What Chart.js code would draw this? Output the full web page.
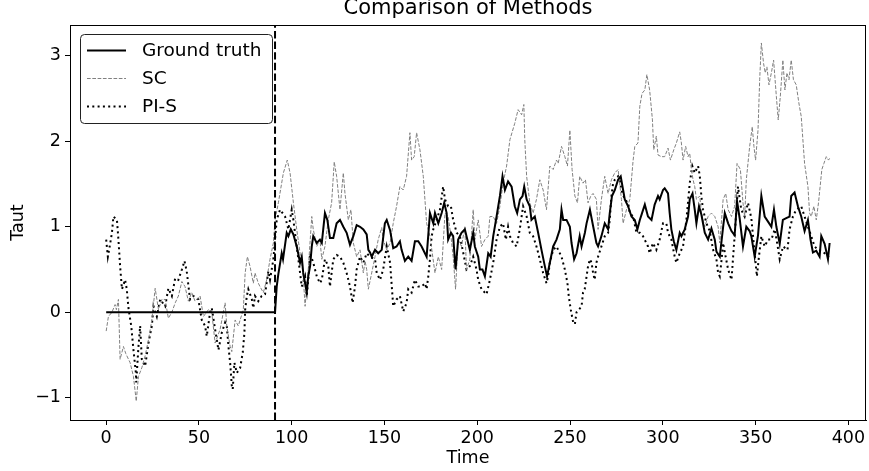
<!DOCTYPE html>
<html lang="en">
<head>
  <meta charset="UTF-8" />
  <title>Comparison of Methods</title>
  <script src="https://cdn.jsdelivr.net/npm/chart.js"></script>
  <style>
    html, body { margin: 0; padding: 0; background: #fff; }
    #wrap { width: 869px; height: 471px; }
  </style>
</head>
<body>
  <div id="wrap"><canvas id="chart" width="869" height="471"></canvas></div>
  <script>
    // values
    const gtTime = [0, 91, 91.9, 92.8, 94.6, 95.3, 97.3, 98.2, 99.5, 100.9, 102.7, 104.5, 105.4, 106.2, 107.2, 108.1, 108.9, 109.9, 110.8, 111.6, 113.5, 115.2, 116.2, 117.9, 119.2, 120.6, 122.4, 124.2, 126, 127.8, 129.6, 131.4, 133.2, 135, 136.8, 138.6, 140.4, 141.3, 142.2, 143.1, 144.9, 146.6, 148.5, 150.2, 151.2, 153, 154.7, 156.5, 158.3, 159.2, 161, 162.8, 164.6, 166.4, 168.2, 170, 172.7, 174.5, 176.3, 177.2, 179, 180.8, 182.2, 183.5, 184.3, 185.8, 187, 188.3, 189.7, 191.5, 193.3, 194.2, 196, 197.8, 198.7, 200.5, 201.4, 202.8, 204.1, 205.9, 207.2, 208.6, 210.4, 212.2, 213.6, 214.9, 216.6, 218.5, 220.2, 221.5, 223, 224.4, 225.3, 226.6, 228.3, 229.2, 231, 232.8, 234.6, 236.4, 237.6, 239.1, 240.9, 242.7, 244.5, 245.4, 246.3, 248.1, 249.9, 250.8, 252.2, 253.5, 255.2, 256.2, 258, 258.9, 260.7, 262.5, 264.2, 265.1, 266.9, 268.7, 270.5, 271.4, 272.6, 274.1, 275.9, 277.3, 278.6, 279.5, 281.3, 283.1, 284.9, 286.3, 287.6, 288.8, 290.3, 292, 293.9, 295.6, 297.4, 298.3, 300.1, 301, 302.8, 303.7, 304.6, 305.9, 307.3, 309.1, 310, 311.8, 313.6, 314.5, 316, 317.2, 318.1, 319.5, 320.8, 322.6, 324.4, 326.2, 328, 328.9, 330.7, 332.5, 333.4, 335.2, 337, 338.7, 340, 341.4, 343.2, 345, 346.8, 347.7, 349.5, 351.3, 353.1, 354.9, 356.7, 358.5, 359.9, 361.2, 363, 364.7, 366.5, 368.3, 369.2, 371, 372.8, 374.6, 376.4, 378.2, 379.6, 380.9, 382.7, 384.5, 385.4, 387.2, 389, 389.9];
    const gtValue = [0, 0, 0.3, 0.45, 0.69, 0.62, 0.93, 0.89, 0.97, 0.91, 0.77, 0.58, 0.65, 0.46, 0.34, 0.23, 0.42, 0.54, 0.77, 0.89, 0.81, 0.85, 0.81, 1.16, 1.08, 0.87, 0.87, 1.04, 1.08, 1.0, 0.93, 0.79, 0.89, 1.02, 1.0, 0.97, 0.91, 0.73, 0.7, 0.65, 0.73, 0.69, 0.73, 1.04, 1.08, 0.96, 0.75, 0.77, 0.83, 0.73, 0.6, 0.65, 0.6, 0.83, 0.83, 0.77, 0.65, 1.16, 1.04, 1.16, 1.04, 1.16, 1.28, 1.16, 0.85, 0.93, 0.89, 0.5, 0.85, 0.93, 0.97, 0.89, 0.73, 0.93, 0.77, 0.65, 0.5, 0.5, 0.42, 0.69, 0.65, 0.89, 1.12, 1.36, 1.59, 1.43, 1.53, 1.47, 1.24, 1.16, 1.32, 1.36, 1.47, 1.32, 1.24, 1.08, 1.12, 0.93, 0.73, 0.54, 0.42, 0.58, 0.77, 0.85, 0.97, 1.2, 1.08, 1.08, 1.0, 0.81, 0.62, 0.69, 0.89, 0.77, 0.93, 1.04, 1.2, 1.0, 0.81, 0.77, 0.89, 1.04, 0.97, 1.16, 1.36, 1.43, 1.55, 1.59, 1.43, 1.32, 1.24, 1.12, 1.08, 0.97, 1.08, 1.16, 1.26, 1.12, 1.08, 1.26, 1.36, 1.32, 1.43, 1.45, 1.39, 1.16, 0.97, 0.83, 0.73, 0.93, 0.89, 0.97, 1.12, 1.32, 1.39, 1.2, 1.04, 1.24, 1.14, 0.93, 0.85, 0.98, 0.85, 0.71, 0.65, 1.0, 1.16, 1.04, 0.95, 0.9, 1.3, 1.1, 0.77, 1.0, 0.95, 0.89, 0.65, 0.9, 1.36, 1.12, 1.06, 1.0, 1.2, 1.0, 0.8, 1.08, 1.1, 1.12, 1.36, 1.4, 1.24, 1.12, 0.95, 1.08, 0.85, 0.7, 0.72, 0.65, 0.89, 0.8, 0.62, 0.81];

    const scTime = [0, 1.2, 3.1, 4.8, 5.5, 6.6, 7.5, 9.3, 10.5, 12.9, 14.7, 16.2, 17.4, 19.2, 21, 22.8, 24.6, 26.4, 28.2, 30, 31.8, 33.5, 35.4, 37.2, 38.9, 40.8, 42.5, 44.3, 46.1, 47.9, 50.6, 52.4, 55.1, 56.9, 58.7, 61.4, 64.1, 65, 66.8, 67.7, 69.5, 71.2, 73.9, 74.9, 76.1, 77.5, 79.3, 80.2, 82, 82.9, 84.7, 86.5, 88.3, 90.1, 91, 92.8, 95.5, 97.6, 99.1, 100.9, 102.7, 104.5, 105.4, 106.2, 107.2, 108.9, 110.8, 111.6, 113.5, 115.2, 116.2, 117.9, 119.7, 121.5, 122.9, 124.2, 126, 127.8, 128.7, 130.5, 131.9, 133.2, 135, 136.8, 138.6, 139.5, 140.4, 141.3, 143.1, 144.9, 146.6, 148.5, 149.3, 151.2, 153, 154.7, 156.5, 158.3, 160.1, 161.9, 163.7, 164.6, 166, 167.3, 169.1, 170.9, 172.7, 174.5, 177.2, 179, 180.8, 182.6, 184.3, 185.8, 187, 188.3, 189.7, 191.5, 193.3, 194.2, 196, 197.8, 198.7, 200.5, 202.3, 204.1, 205.9, 206.8, 208.6, 210.4, 212.2, 213.9, 215.8, 217.6, 220.2, 222, 223.9, 225.1, 225.6, 226.6, 228.3, 230.1, 231.9, 233.7, 235.5, 237.3, 239.1, 240.9, 242.7, 243.6, 245.4, 247.2, 248.6, 249.9, 251.1, 252.6, 254, 255.2, 257, 258.3, 259.7, 261.2, 262.4, 264.2, 265.1, 266.9, 268.7, 270.5, 272.3, 274.1, 275.9, 277.7, 278.6, 280.4, 282.2, 284, 284.9, 286.6, 287.6, 288.8, 290.3, 291.4, 292.9, 294.4, 295.1, 296.5, 297.4, 299.2, 301, 302.8, 304.1, 305.9, 307.3, 309.1, 310, 310.9, 312.3, 313.6, 314.5, 315.4, 316.3, 317.2, 318.1, 319.9, 320.8, 322.6, 324.4, 326.2, 328, 329.8, 330.7, 332.5, 333.9, 335.2, 337, 338.7, 340, 341.8, 343.2, 344.1, 345, 346.8, 348.2, 349.1, 350, 351.3, 352.2, 353.1, 354.3, 355.2, 356.1, 357.2, 358.5, 359.7, 361.2, 362.2, 363.3, 364.7, 365.8, 366.9, 368, 369.2, 370.4, 371.9, 373.3, 374.6, 376.4, 378.2, 379.1, 380, 381.4, 382.7, 383.9, 385.7, 386.8, 388.1, 389.3, 389.9];
    const scValue = [-0.22, -0.05, 0.0, 0.09, 0.03, 0.15, -0.55, -0.4, -0.48, -0.59, -0.75, -1.04, -0.75, -0.65, -0.51, -0.32, -0.09, 0.28, 0.03, 0.15, 0.15, -0.07, 0.0, 0.11, 0.19, 0.36, 0.3, 0.13, 0.23, 0.13, 0.19, -0.05, 0.03, 0.0, -0.36, -0.2, 0.11, -0.16, -0.4, -0.46, -0.09, -0.16, 0.03, 0.46, 0.65, 0.54, 0.34, 0.46, 0.34, 0.3, 0.23, 0.38, 0.62, 0.81, 1.08, 1.28, 1.63, 1.78, 1.63, 1.28, 0.97, 0.69, 0.58, 0.42, 0.07, 0.5, 1.12, 0.97, 0.77, 0.85, 0.62, 0.77, 1.08, 1.28, 1.76, 1.59, 1.2, 1.63, 1.39, 1.08, 1.2, 0.81, 0.65, 0.73, 0.46, 0.6, 0.5, 0.27, 0.46, 0.65, 0.85, 0.99, 0.85, 0.73, 0.81, 1.04, 1.24, 1.47, 1.43, 1.59, 2.1, 1.78, 1.82, 2.1, 1.9, 1.59, 1.04, 0.89, 0.46, 0.65, 0.5, 1.16, 1.12, 0.89, 0.65, 0.27, 0.85, 0.77, 1.0, 0.5, 0.62, 1.2, 0.85, 1.08, 0.77, 0.85, 0.89, 1.12, 1.12, 1.04, 1.24, 1.51, 1.71, 2.02, 2.21, 2.37, 2.31, 2.43, 2.02, 1.59, 1.28, 1.16, 1.32, 1.55, 1.43, 1.2, 1.71, 1.67, 1.78, 1.74, 1.94, 1.82, 1.71, 2.13, 1.67, 1.36, 1.28, 1.59, 1.51, 1.55, 1.28, 1.36, 1.39, 1.32, 0.97, 1.32, 1.59, 1.39, 1.55, 1.63, 1.67, 1.32, 1.04, 1.2, 1.32, 1.78, 1.94, 1.98, 2.41, 2.56, 2.6, 2.78, 2.6, 2.25, 1.9, 2.06, 1.84, 1.82, 1.82, 1.92, 1.78, 1.9, 1.98, 2.11, 1.98, 1.78, 1.94, 1.82, 1.86, 1.67, 1.55, 1.47, 1.32, 1.36, 1.16, 1.0, 1.12, 1.16, 1.12, 1.0, 0.81, 1.32, 1.39, 1.2, 1.12, 1.24, 1.74, 1.67, 1.28, 1.12, 1.55, 1.94, 2.17, 1.94, 1.78, 2.13, 2.72, 3.15, 2.91, 2.8, 2.87, 2.66, 2.8, 2.95, 2.52, 2.25, 2.52, 2.95, 2.6, 2.8, 2.72, 2.95, 2.72, 2.66, 2.45, 2.29, 1.74, 1.47, 1.16, 1.12, 1.24, 1.08, 1.28, 1.67, 1.74, 1.82, 1.78, 1.8];

    const pisTime = [0, 0.9, 2.2, 3.1, 3.9, 5.8, 6.6, 7.5, 8.5, 10.2, 11.1, 12, 13.5, 14.7, 16, 16.2, 17.4, 18.3, 19.2, 21, 22.8, 24.6, 25.5, 27.3, 29.1, 31.8, 33.5, 35.4, 37.2, 38.9, 40.8, 42.2, 43.4, 45.2, 47, 49.7, 51.5, 53.3, 54.2, 56, 56.9, 58.7, 60.5, 62.3, 64.1, 65, 65.9, 66.8, 67.7, 68.2, 69.1, 70.4, 72.2, 73.6, 74.5, 74.9, 75.8, 76.6, 78.5, 79.3, 80.2, 82, 83.8, 85.6, 87.4, 88.3, 90.1, 91.9, 93.7, 96.4, 98.2, 100, 100.9, 102.7, 104.5, 105.4, 107.2, 108.1, 108.9, 109.9, 111.6, 113.5, 115.2, 116.2, 117.9, 119.7, 120.6, 122.4, 124.2, 126, 127.8, 129.6, 131.4, 132.8, 134.1, 135, 136.8, 138.6, 140.4, 142.2, 144.9, 145.8, 147.6, 149.3, 151.2, 153, 153.8, 154.7, 156.5, 158.3, 160.1, 161.9, 162.8, 164.6, 166.4, 168.2, 170, 171.8, 172.7, 173.6, 174.5, 175.4, 176.3, 178.1, 179.9, 181.6, 182.6, 184.3, 185.8, 187, 188.9, 190.6, 192.4, 194.2, 196, 197.8, 199.6, 200.5, 202.3, 204.1, 205, 206.8, 208.6, 210.4, 212.2, 213.9, 215.4, 216.6, 217.6, 219.3, 221.2, 222.9, 223.9, 224.7, 226.6, 228.3, 230.1, 231.9, 233.7, 235.5, 237.3, 238.2, 239.1, 240.9, 242.7, 243.6, 245.4, 247.2, 248.6, 249.3, 250.4, 251.7, 252.6, 253.5, 254.8, 256.2, 257, 257.9, 258.9, 259.7, 260.7, 261.6, 262.4, 263.3, 264.2, 265.1, 266.9, 268.7, 270.5, 271.4, 272.3, 273.2, 274.1, 275.9, 276.8, 277.7, 279.5, 281.3, 282.2, 284, 285.8, 287.6, 289.3, 292, 292.9, 294.7, 296.5, 298.3, 300.1, 301.9, 302.8, 304.6, 306.4, 307.3, 309.1, 310.9, 312.7, 314.5, 315.9, 317.2, 319, 319.9, 320.8, 321.7, 323.5, 325.3, 327.1, 328.9, 329.8, 330.7, 331.6, 332.5, 333.4, 335.2, 337, 338.7, 340.5, 342.3, 344.1, 345.9, 347.7, 349.5, 350.7, 351.8, 353.1, 354.9, 356.7, 358.5, 360.3, 361.6, 363, 364.8, 367.2, 368.3, 370.1, 371.9, 374.6, 376.4, 378.2, 380, 381.8, 383.6, 385.4, 387.2, 389, 389.9];
    const pisValue = [0.85, 0.65, 0.81, 0.93, 1.12, 1.08, 0.85, 0.54, 0.27, 0.38, 0.27, 0.05, -0.16, -0.44, -0.71, -0.82, -0.4, -0.16, -0.55, -0.63, -0.36, -0.16, 0.07, -0.05, 0.15, 0.07, 0.28, 0.19, 0.4, 0.38, 0.5, 0.6, 0.48, 0.15, 0.19, 0.15, -0.09, -0.16, -0.28, 0.0, 0.05, -0.2, -0.44, -0.24, -0.12, -0.16, -0.4, -0.59, -0.86, -0.9, -0.59, -0.71, -0.65, -0.47, -0.24, 0.03, 0.19, 0.27, 0.15, 0.05, 0.19, 0.13, 0.19, 0.21, 0.48, 0.38, 0.62, 1.08, 1.2, 1.12, 0.97, 1.2, 1.08, 0.77, 0.46, 0.3, 0.42, 0.19, 0.38, 0.69, 0.58, 0.42, 0.34, 0.38, 0.62, 0.54, 0.3, 0.62, 0.67, 0.65, 0.58, 0.46, 0.3, 0.11, 0.3, 0.5, 0.65, 0.58, 0.69, 0.65, 0.62, 0.46, 0.38, 0.5, 0.77, 0.58, 0.34, 0.07, 0.15, 0.19, 0.01, 0.11, 0.27, 0.23, 0.38, 0.3, 0.3, 0.34, 0.27, 0.42, 0.62, 0.89, 0.97, 1.08, 1.2, 1.47, 1.32, 1.24, 1.24, 1.08, 0.93, 0.89, 0.7, 0.5, 0.54, 0.65, 0.5, 0.38, 0.27, 0.23, 0.21, 0.38, 0.58, 0.85, 1.0, 1.04, 0.85, 1.0, 0.89, 0.81, 0.77, 0.97, 1.12, 1.24, 1.12, 0.93, 0.89, 0.77, 0.62, 0.46, 0.34, 0.42, 0.58, 0.73, 0.77, 0.73, 0.65, 0.5, 0.34, 0.19, 0.03, -0.12, -0.14, 0.0, 0.03, 0.07, 0.23, 0.27, 0.42, 0.54, 0.62, 0.58, 0.46, 0.38, 0.58, 0.65, 0.77, 0.89, 0.93, 1.08, 1.36, 1.51, 1.55, 1.59, 1.55, 1.43, 1.32, 1.28, 1.16, 1.12, 0.93, 0.93, 0.89, 0.77, 0.69, 0.81, 0.73, 0.85, 1.04, 1.04, 0.93, 0.85, 0.65, 0.58, 0.69, 0.77, 1.08, 1.51, 1.71, 1.63, 1.71, 1.6, 1.35, 1.2, 1.04, 0.95, 0.73, 0.62, 0.46, 0.42, 0.6, 0.81, 0.7, 0.5, 0.38, 0.89, 1.47, 1.2, 1.12, 1.28, 1.1, 0.69, 0.42, 0.65, 0.89, 0.77, 0.85, 0.85, 0.97, 0.81, 0.62, 0.77, 0.73, 0.97, 1.12, 1.2, 1.24, 1.12, 1.0, 0.89, 0.77, 0.73, 0.72, 0.69, 0.65, 0.68];

    const interventionTime = 91;
    const xTicks = [0, 50, 100, 150, 200, 250, 300, 350, 400];
    const yTicks = [-1, 0, 1, 2, 3];

    const toPoints = (xs, ys) => xs.map((x, i) => ({ x: x, y: ys[i] }));
    const FONT = 'DejaVu Sans';

    const decor = {
      id: 'decor',
      afterDatasetsDraw(chart) {
        const { ctx, chartArea: a, scales } = chart;
        // vertical dashed line at the intervention
        const vx = scales.x.getPixelForValue(interventionTime);
        ctx.save();
        ctx.beginPath();
        ctx.rect(a.left, a.top, a.right - a.left, a.bottom - a.top);
        ctx.clip();
        ctx.strokeStyle = '#000';
        ctx.lineWidth = 2;
        ctx.setLineDash([7.4, 3.2]);
        ctx.beginPath();
        ctx.moveTo(vx, a.bottom);
        ctx.lineTo(vx, a.top);
        ctx.stroke();
        ctx.restore();
      },
      afterDraw(chart) {
        const { ctx, chartArea: a } = chart;
        ctx.save();
        // frame
        ctx.strokeStyle = '#000';
        ctx.lineWidth = 1;
        ctx.strokeRect(a.left + 0.5, a.top + 0.5, a.right - a.left - 1, a.bottom - a.top);

        // title
        ctx.fillStyle = '#000';
        ctx.font = '21px "' + FONT + '"';
        ctx.textAlign = 'center';
        ctx.textBaseline = 'middle';
        ctx.fillText('Comparison of Methods', (a.left + a.right) / 2, 9);

        // legend
        const bx = a.left + 10, by = a.top + 9, bw = 192, bh = 89;
        ctx.fillStyle = 'rgba(255,255,255,0.8)';
        ctx.strokeStyle = '#222';
        ctx.lineWidth = 1;
        ctx.beginPath();
        ctx.roundRect(bx + 0.5, by + 0.5, bw, bh, 4);
        ctx.fill();
        ctx.stroke();
        const rows = [50.5, 78.5, 106.5];
        chart.data.datasets.forEach((ds, i) => {
          const y = rows[i];
          ctx.strokeStyle = ds.borderColor;
          ctx.lineWidth = ds.borderWidth;
          ctx.setLineDash(ds.borderDash || []);
          ctx.beginPath();
          ctx.moveTo(bx + 7, y);
          ctx.lineTo(bx + 46, y);
          ctx.stroke();
          ctx.setLineDash([]);
          ctx.fillStyle = '#000';
          ctx.font = '18.5px "' + FONT + '"';
          ctx.textAlign = 'left';
          ctx.textBaseline = 'middle';
          ctx.fillText(ds.label, bx + 62, y + 1);
        });
        ctx.restore();
      }
    };

    const axisGrid = { display: true, drawOnChartArea: false, drawTicks: true, tickLength: 5, color: '#000' };

    new Chart(document.getElementById('chart'), {
      type: 'line',
      data: {
        datasets: [
          { label: 'Ground truth', data: toPoints(gtTime, gtValue), borderColor: '#000', borderWidth: 2 },
          { label: 'SC', data: toPoints(scTime, scValue), borderColor: '#808080', borderWidth: 1, borderDash: [3.7, 1.6] },
          { label: 'PI-S', data: toPoints(pisTime, pisValue), borderColor: '#000', borderWidth: 2, borderDash: [2, 3.3] }
        ]
      },
      options: {
        responsive: false,
        animation: false,
        devicePixelRatio: 1,
        layout: { padding: { left: 0, top: 25, right: 3, bottom: 0 } },
        elements: { point: { radius: 0 }, line: { tension: 0, fill: false } },
        plugins: { legend: { display: false }, title: { display: false }, tooltip: { enabled: false } },
        scales: {
          x: {
            type: 'linear',
            min: -19.5,
            max: 409.5,
            grid: axisGrid,
            border: { display: true, color: '#000', width: 1 },
            afterBuildTicks: s => { s.ticks = xTicks.map(v => ({ value: v })); },
            afterFit: s => { s.height = 51; },
            ticks: { color: '#000', font: { family: FONT, size: 17.5 }, padding: 3, maxRotation: 0 },
            title: { display: true, text: 'Time', color: '#000', font: { family: FONT, size: 17.5 }, padding: { top: 0, bottom: 2 } }
          },
          y: {
            min: -1.26,
            max: 3.36,
            grid: axisGrid,
            border: { display: true, color: '#000', width: 1 },
            afterBuildTicks: s => { s.ticks = yTicks.map(v => ({ value: v })); },
            afterFit: s => { s.width = 70; },
            ticks: {
              color: '#000', font: { family: FONT, size: 17.5 }, padding: 4,
              callback: v => (v < 0 ? '\u2212' + Math.abs(v) : String(v))
            },
            title: { display: true, text: 'Taut', color: '#000', font: { family: FONT, size: 17.5 }, padding: { top: 8, bottom: 0 } }
          }
        }
      },
      plugins: [decor]
    });
  </script>
</body>
</html>
